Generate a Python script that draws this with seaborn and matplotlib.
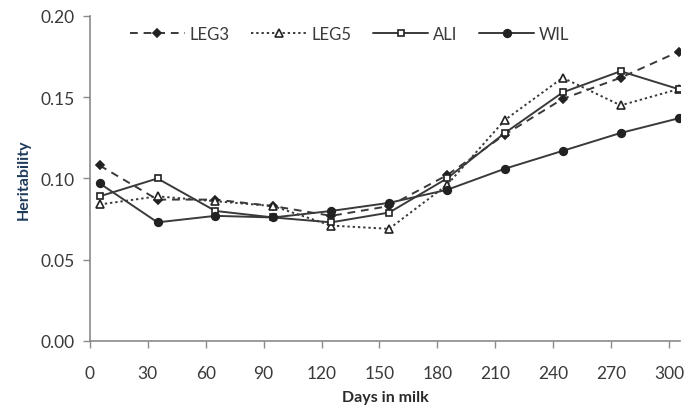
import pandas as pd
import seaborn as sns
import matplotlib.pyplot as plt

# test days (points sit a few days after each 30-day tick)
days = [5, 35, 65, 95, 125, 155, 185, 215, 245, 275, 305]

leg3 = [0.108, 0.087, 0.087, 0.083, 0.077, 0.083, 0.102, 0.127, 0.149, 0.162, 0.178]
leg5 = [0.084, 0.089, 0.086, 0.083, 0.071, 0.069, 0.096, 0.136, 0.162, 0.145, 0.155]
ali = [0.089, 0.100, 0.080, 0.076, 0.073, 0.079, 0.100, 0.128, 0.153, 0.166, 0.155]
wil = [0.097, 0.073, 0.077, 0.076, 0.080, 0.085, 0.093, 0.106, 0.117, 0.128, 0.137]

x_ticks = [0, 30, 60, 90, 120, 150, 180, 210, 240, 270, 300]
y_ticks = [0.00, 0.05, 0.10, 0.15, 0.20]

series = {"LEG3": leg3, "LEG5": leg5, "ALI": ali, "WIL": wil}
styles = {
    "LEG3": dict(linestyle=(0, (4, 3)), marker="D", markersize=4.5, markerfacecolor="#222222"),
    "LEG5": dict(linestyle=(0, (1.2, 1.5)), marker="^", markersize=5.5, markerfacecolor="white"),
    "ALI": dict(linestyle="-", marker="s", markersize=5, markerfacecolor="white"),
    "WIL": dict(linestyle="-", marker="o", markersize=5.5, markerfacecolor="#222222"),
}

sns.set_style("ticks")
plt.rcParams["font.family"] = ["Lato", "DejaVu Sans"]

fig = plt.figure(figsize=(6.89, 4.14), dpi=100)
ax = fig.add_axes([0.1306, 0.174, 0.857, 0.785])

for name, vals in series.items():
    df = pd.DataFrame({"day": days, "h": vals})
    st = styles[name]
    sns.lineplot(data=df, x="day", y="h", ax=ax, color="#3a3a3a", linewidth=1.4,
                 linestyle=st["linestyle"], marker=st["marker"],
                 markersize=st["markersize"], markerfacecolor=st["markerfacecolor"],
                 markeredgecolor="#222222", markeredgewidth=1.2, label=name)

ax.set_xlim(0, 306)
ax.set_ylim(0, 0.20)
ax.set_xticks(x_ticks)
ax.set_yticks(y_ticks)
ax.set_yticklabels([f"{v:.2f}" for v in y_ticks])
ax.tick_params(axis="both", labelsize=12.5, colors="#8a8a8a", labelcolor="#3a3a3a",
               length=5, width=1)
ax.tick_params(axis="x", pad=12)
ax.tick_params(axis="y", pad=6)
for side in ["top", "right"]:
    ax.spines[side].set_visible(False)
for side in ["left", "bottom"]:
    ax.spines[side].set_color("#8a8a8a")
    ax.spines[side].set_linewidth(1.2)

ax.set_xlabel("Days in milk", fontsize=11.5, fontweight="bold", color="#2a2a2a", labelpad=7)
ax.set_ylabel("Heritability", fontsize=11.5, fontweight="bold", color="#1f3b5c", labelpad=7)

ax.legend(ncol=4, loc="center left", bbox_to_anchor=(0.042, 0.945), frameon=False,
          fontsize=12, handlelength=3.3, columnspacing=1.3, handletextpad=0.3,
          labelcolor="#3a3a3a")

fig.savefig("out.png", dpi=100)
